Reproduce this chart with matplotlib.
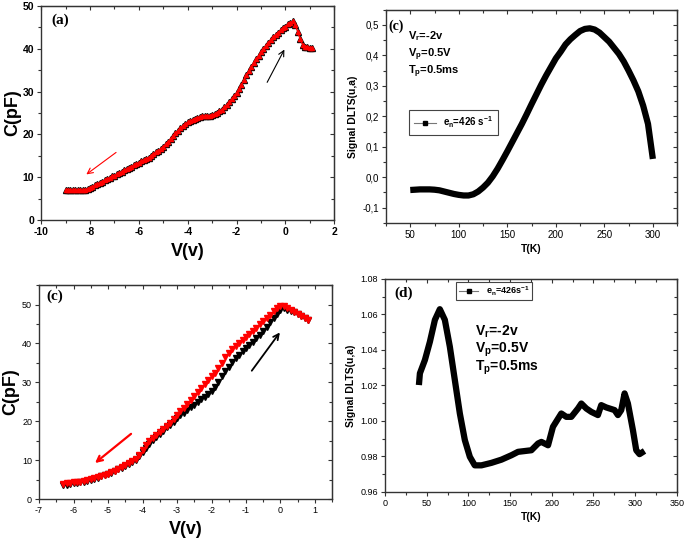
import numpy as np
import matplotlib
matplotlib.use('Agg')
import matplotlib.pyplot as plt
from matplotlib.lines import Line2D
from matplotlib.ticker import MultipleLocator, FuncFormatter

plt.rcParams['font.family'] = ['Liberation Sans', 'DejaVu Sans']
plt.rcParams['mathtext.fontset'] = 'custom'
plt.rcParams['mathtext.rm'] = 'Liberation Sans:bold'
plt.rcParams['mathtext.default'] = 'rm'
plt.rcParams['axes.unicode_minus'] = False

# (a) C-V, sweep step 0.1 V
v_a = np.round(np.arange(-9.0, 1.15, 0.1), 2)
c_a = [7.0, 7.0, 7.0, 7.0, 7.0, 7.0, 7.0, 7.0, 7.1, 7.3,
       7.5, 7.8, 8.1, 8.4, 8.7, 9.0, 9.3, 9.6, 9.9, 10.2,
       10.4, 10.7, 11.0, 11.3, 11.6, 11.9, 12.2, 12.5, 12.8, 13.1,
       13.4, 13.7, 14.0, 14.3, 14.6, 15.0, 15.4, 15.8, 16.2, 16.6,
       17.1, 17.7, 18.3, 19.0, 19.6, 20.3, 20.9, 21.5, 22.0, 22.4,
       22.8, 23.1, 23.4, 23.7, 23.9, 24.1, 24.2, 24.3, 24.3, 24.4,
       24.5, 24.7, 25.0, 25.4, 25.8, 26.3, 26.9, 27.5, 28.2, 28.9,
       29.7, 30.6, 31.6, 32.7, 33.8, 34.8, 35.8, 36.8, 37.6, 38.4,
       39.2, 40.0, 40.7, 41.4, 42.1, 42.7, 43.3, 43.8, 44.3, 44.8,
       45.2, 45.7, 46.1, 46.4, 45.6, 44.0, 42.3, 41.0, 40.5, 40.4,
       40.3, 40.3]

# (c) DLTS, T step 5 K
t_c = np.arange(50, 305, 5)
s_c = [-0.042, -0.041, -0.040, -0.040, -0.040, -0.041, -0.043, -0.047, -0.051, -0.055,
       -0.058, -0.060, -0.060, -0.056, -0.047, -0.034, -0.018, 0.003, 0.028, 0.056,
       0.085, 0.115, 0.145, 0.175, 0.207, 0.240, 0.272, 0.304, 0.334, 0.362,
       0.390, 0.412, 0.436, 0.453, 0.467, 0.480, 0.487, 0.489, 0.485, 0.475,
       0.460, 0.445, 0.425, 0.405, 0.380, 0.350, 0.318, 0.282, 0.235, 0.175,
       0.060]

# (c) bottom C-V, two sweeps
v_b = np.round(np.arange(-6.3, 0.85, 0.1), 2)
c_fwd = [3.5, 3.7, 3.9, 4.1, 4.2, 4.3, 4.5, 4.7, 4.9, 5.2,
         5.5, 5.8, 6.1, 6.4, 6.8, 7.2, 7.6, 7.9, 8.4, 8.9,
         9.4, 10.1, 11.0, 12.0, 13.2, 14.2, 15.1, 16.0, 16.8, 17.6,
         18.4, 19.1, 19.9, 20.7, 21.5, 22.2, 23.0, 23.6, 24.2, 24.9,
         25.6, 26.2, 26.9, 27.7, 28.8, 30.1, 31.5, 32.8, 34.0, 35.2,
         36.2, 37.1, 38.0, 38.8, 39.6, 40.4, 41.3, 42.2, 43.2, 44.3,
         45.4, 46.5, 47.6, 48.7, 49.0, 48.7, 48.4, 48.0, 47.6, 47.1,
         46.6, 46.0]
c_rev = [3.8, 4.0, 4.1, 4.3, 4.4, 4.5, 4.7, 4.9, 5.1, 5.4,
         5.7, 6.0, 6.3, 6.5, 6.9, 7.3, 7.8, 8.2, 8.7, 9.3,
         9.8, 10.4, 11.4, 12.5, 14.0, 15.0, 15.8, 16.5, 17.2, 18.0,
         18.8, 19.6, 20.5, 21.5, 22.5, 23.5, 24.5, 25.5, 26.5, 27.5,
         28.5, 29.5, 30.5, 31.5, 32.5, 33.6, 35.0, 36.5, 37.6, 38.5,
         39.3, 40.1, 40.8, 41.6, 42.4, 43.2, 44.0, 44.9, 45.8, 46.6,
         47.4, 48.3, 49.1, 49.6, 49.6, 49.0, 48.5, 48.1, 47.6, 47.1,
         46.6, 46.1]

# (d) DLTS
t_d = [40.7, 41.9, 47.9, 53.9, 59.9, 65.8, 71.8, 77.8, 83.8, 89.8,
       95.8, 101.8, 107.7, 115.7, 127.7, 139.7, 151.7, 159.6, 175.6, 183.6,
       187.6, 195.6, 201.5, 211.5, 217.5, 223.5, 231.5, 235.5, 241.5, 247.5,
       255.4, 259.4, 265.4, 275.4, 279.4, 283.4, 287.4, 291.4, 297.4, 301.4,
       305.3, 311.3]
s_d = [1.0202, 1.0268, 1.0343, 1.0446, 1.0569, 1.0629, 1.0569, 1.0418, 1.0230, 1.0042,
       0.9892, 0.9798, 0.9750, 0.9750, 0.9764, 0.9782, 0.9807, 0.9826, 0.9835, 0.9873,
       0.9882, 0.9863, 0.9967, 1.0042, 1.0023, 1.0023, 1.0070, 1.0098, 1.0070, 1.0051,
       1.0033, 1.0089, 1.0076, 1.0061, 1.0033, 1.0061, 1.0155, 1.0098, 0.9948, 0.9835,
       0.9813, 0.9831]

SPINE = '#333333'


def style(ax, xmaj, xmin, ymaj, ymin, size, bold=False):
    for s in ax.spines.values():
        s.set_color(SPINE)
        s.set_linewidth(1.0)
    ax.xaxis.set_major_locator(MultipleLocator(xmaj))
    ax.xaxis.set_minor_locator(MultipleLocator(xmin))
    ax.yaxis.set_major_locator(MultipleLocator(ymaj))
    ax.yaxis.set_minor_locator(MultipleLocator(ymin))
    ax.tick_params(which='both', direction='out', color=SPINE, width=0.8,
                   labelsize=size, pad=2)
    ax.tick_params(which='major', length=3)
    ax.tick_params(which='minor', length=2)
    if bold:
        for lab in ax.get_xticklabels() + ax.get_yticklabels():
            lab.set_fontweight('bold')
    # mirrored ticks pointing in on top/right
    top = ax.secondary_xaxis('top')
    top.xaxis.set_major_locator(MultipleLocator(xmaj))
    top.xaxis.set_minor_locator(MultipleLocator(xmin))
    top.tick_params(which='both', direction='in', color=SPINE, width=0.8,
                    labeltop=False)
    top.tick_params(which='major', length=3)
    top.tick_params(which='minor', length=2)
    top.spines['top'].set_color(SPINE)
    right = ax.secondary_yaxis('right')
    right.yaxis.set_major_locator(MultipleLocator(ymaj))
    right.yaxis.set_minor_locator(MultipleLocator(ymin))
    right.tick_params(which='both', direction='in', color=SPINE, width=0.8,
                      labelright=False)
    right.tick_params(which='major', length=3)
    right.tick_params(which='minor', length=2)
    right.spines['right'].set_color(SPINE)


def comma(x, pos):
    return ('%.1f' % x).replace('.', ',')


fig = plt.figure(figsize=(6.85, 5.41), dpi=100)

# ---- (a)
ax1 = fig.add_axes([0.060, 0.593, 0.428, 0.396])
ax1.plot(v_a, c_a, ls='none', marker='^', ms=4.2, color='black')
ax1.plot(v_a, c_a, '-', lw=1.0, marker='^', ms=3.0, color='red')
ax1.set_xlim(-10, 2)
ax1.set_ylim(0, 50)
style(ax1, 2, 1, 10, 5, 7.5, bold=True)
ax1.set_xlabel('V(v)', fontsize=13, fontweight='bold', labelpad=4)
ax1.set_ylabel('C(pF)', fontsize=13, fontweight='bold', labelpad=1)
ax1.annotate('', xy=(-8.24, 10.3), xytext=(-6.84, 16.2),
             arrowprops=dict(arrowstyle='->', color='red', lw=0.8))
ax1.annotate('', xy=(0.01, 40.4), xytext=(-0.8, 31.6),
             arrowprops=dict(arrowstyle='->', color='black', lw=0.8))
ax1.text(0.034, 0.935, '(a)', transform=ax1.transAxes, fontsize=11,
         fontweight='bold', family='Liberation Serif', va='center')

# ---- (c) top right
ax2 = fig.add_axes([0.5635, 0.588, 0.425, 0.394])
ax2.plot(t_c, s_c, '-', lw=4.5, color='black', solid_capstyle='butt')
ax2.set_xlim(25, 325)
ax2.set_ylim(-0.15, 0.55)
style(ax2, 50, 25, 0.1, 0.05, 7)
ax2.yaxis.set_major_formatter(FuncFormatter(comma))
ax2.set_xlabel('T(K)', fontsize=7.5, fontweight='bold', labelpad=3)
ax2.set_ylabel('Signal DLTS(u,a)', fontsize=7.5, fontweight='bold', labelpad=3)
ax2.text(0.007, 0.923, '(c)', transform=ax2.transAxes, fontsize=10,
         fontweight='bold', family='Liberation Serif', va='center')
ax2.text(0.076, 0.878, r'V$_r$=-2v', transform=ax2.transAxes, fontsize=8,
         fontweight='bold', va='center')
ax2.text(0.076, 0.789, r'V$_p$=0.5V', transform=ax2.transAxes, fontsize=8,
         fontweight='bold', va='center')
ax2.text(0.076, 0.709, r'T$_p$=0.5ms', transform=ax2.transAxes, fontsize=8,
         fontweight='bold', va='center')
h2 = Line2D([], [], color='#777777', lw=0.8, marker='s', ms=3.5,
            markerfacecolor='black', markeredgecolor='black')
leg2 = ax2.legend([h2], [r'e$_n$=426 s$^{-1}$'], loc='upper left',
                  bbox_to_anchor=(0.08, 0.53), borderaxespad=0, fancybox=False,
                  edgecolor='#444444', framealpha=1, handlelength=2.2,
                  borderpad=0.5, prop={'size': 7, 'weight': 'bold'})
leg2.get_frame().set_linewidth(0.8)

# ---- (c) bottom left
ax3 = fig.add_axes([0.057, 0.0776, 0.428, 0.3955])
ax3.plot(v_b, c_fwd, ls='none', marker='v', ms=4.5, color='black')
ax3.plot(v_b, c_rev, ls='none', marker='v', ms=4.5, color='red')
ax3.set_xlim(-7, 1.5)
ax3.set_ylim(0, 55)
style(ax3, 1, 0.5, 10, 5, 6.5)
ax3.set_xlabel('V(v)', fontsize=13, fontweight='bold', labelpad=4)
ax3.set_ylabel('C(pF)', fontsize=13, fontweight='bold', labelpad=2)
ax3.annotate('', xy=(-5.44, 8.8), xytext=(-4.27, 17.2),
             arrowprops=dict(arrowstyle='->', color='red', lw=1.6))
ax3.annotate('', xy=(0.03, 43.4), xytext=(-0.88, 32.4),
             arrowprops=dict(arrowstyle='->', color='black', lw=1.3))
ax3.text(0.024, 0.946, '(c)', transform=ax3.transAxes, fontsize=11,
         fontweight='bold', family='Liberation Serif', va='center')

# ---- (d)
ax4 = fig.add_axes([0.562, 0.0906, 0.426, 0.394])
ax4.plot(t_d, s_d, '-', lw=4.5, color='black', solid_capstyle='butt')
ax4.set_xlim(0, 350)
ax4.set_ylim(0.96, 1.08)
style(ax4, 50, 25, 0.02, 0.01, 6.5)
ax4.yaxis.set_major_formatter(FuncFormatter(lambda x, p: '%.2f' % x))
ax4.set_xlabel('T(K)', fontsize=7.5, fontweight='bold', labelpad=3)
ax4.set_ylabel('Signal DLTS(u,a)', fontsize=7.5, fontweight='bold', labelpad=3)
ax4.text(0.031, 0.93, '(d)', transform=ax4.transAxes, fontsize=11,
         fontweight='bold', family='Liberation Serif', va='center')
ax4.text(0.308, 0.751, r'V$_r$=-2v', transform=ax4.transAxes, fontsize=10,
         fontweight='bold', va='center')
ax4.text(0.308, 0.667, r'V$_p$=0.5V', transform=ax4.transAxes, fontsize=10,
         fontweight='bold', va='center')
ax4.text(0.308, 0.582, r'T$_p$=0.5ms', transform=ax4.transAxes, fontsize=10,
         fontweight='bold', va='center')
h4 = Line2D([], [], color='#777777', lw=0.8, marker='s', ms=3.5,
            markerfacecolor='black', markeredgecolor='black')
leg4 = ax4.legend([h4], [r'e$_n$=426s$^{-1}$'], loc='upper left',
                  bbox_to_anchor=(0.243, 0.986), borderaxespad=0, fancybox=False,
                  edgecolor='#444444', framealpha=1, handlelength=2.2,
                  borderpad=0.3, prop={'size': 6.5, 'weight': 'bold'})
leg4.get_frame().set_linewidth(0.8)

fig.savefig('out.png', dpi=100)
